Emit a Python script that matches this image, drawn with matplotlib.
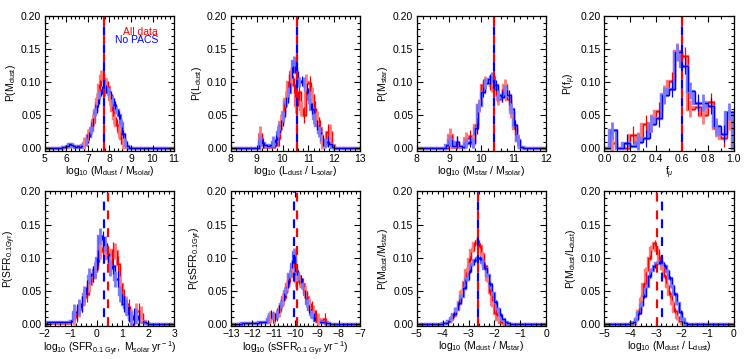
import numpy as np
import matplotlib
matplotlib.use('Agg')
import matplotlib.pyplot as plt
from matplotlib.ticker import MultipleLocator, AutoMinorLocator

plt.rcParams['font.family'] = ['Liberation Sans', 'DejaVu Sans']
plt.rcParams['mathtext.fontset'] = 'custom'
plt.rcParams['mathtext.rm'] = 'Liberation Sans'
plt.rcParams['mathtext.it'] = 'Liberation Sans:italic'

# --- panel data: histogram start edge, bin width, red ("All data") and blue ("No PACS") heights
mdust_start, mdust_bin = 5.8, 0.1
mdust_red = [0.001, 0.001, 0.002, 0.004, 0.006, 0.003, 0.003, 0.003, 0.004, 0.005,
             0.008, 0.012, 0.020, 0.030, 0.042, 0.058, 0.075, 0.095, 0.110, 0.105,
             0.098, 0.092, 0.075, 0.058, 0.045, 0.035, 0.025, 0.015, 0.008, 0.003, 0.001]
mdust_blue = [0.001, 0.002, 0.003, 0.006, 0.005, 0.003, 0.002, 0.003, 0.002, 0.004,
              0.006, 0.010, 0.018, 0.028, 0.040, 0.055, 0.068, 0.080, 0.088, 0.085,
              0.090, 0.086, 0.080, 0.074, 0.066, 0.058, 0.050, 0.038, 0.022, 0.010, 0.004]
mdust_med = (7.75, 7.75)

ldust_start, ldust_bin = 9.0, 0.1
ldust_red = [0.0, 0.022, 0.005, 0.001, 0.001, 0.001, 0.002, 0.005, 0.015, 0.040,
             0.055, 0.075, 0.100, 0.110, 0.095, 0.065, 0.085, 0.060, 0.050, 0.100,
             0.098, 0.080, 0.060, 0.045, 0.030, 0.010, 0.005, 0.025, 0.025, 0.005]
ldust_blue = [0.0, 0.013, 0.008, 0.005, 0.003, 0.005, 0.010, 0.012, 0.025, 0.035,
              0.048, 0.070, 0.085, 0.115, 0.132, 0.115, 0.100, 0.102, 0.100, 0.090,
              0.075, 0.060, 0.045, 0.035, 0.025, 0.012, 0.008, 0.010, 0.006, 0.002]
ldust_med = (10.55, 10.55)

mstar_start, mstar_bin = 8.9, 0.1
mstar_red = [0.0, 0.020, 0.002, 0.008, 0.002, 0.002, 0.015, 0.018, 0.010, 0.035,
             0.065, 0.095, 0.100, 0.098, 0.095, 0.090, 0.075, 0.080, 0.095, 0.075,
             0.055, 0.030, 0.012, 0.002]
mstar_blue = [0.005, 0.012, 0.004, 0.010, 0.004, 0.002, 0.008, 0.010, 0.008, 0.030,
              0.065, 0.085, 0.098, 0.105, 0.108, 0.095, 0.080, 0.078, 0.088, 0.080,
              0.060, 0.035, 0.012, 0.002]
mstar_med = (10.38, 10.38)

fmu_start, fmu_bin = 0.0, 0.05
fmu_red = [0.0, 0.008, 0.0, 0.0, 0.020, 0.012, 0.037, 0.038, 0.057, 0.082,
           0.102, 0.147, 0.140, 0.060, 0.062, 0.050, 0.070, 0.030, 0.015, 0.040]
fmu_blue = [0.0, 0.027, 0.0, 0.008, 0.003, 0.010, 0.015, 0.037, 0.045, 0.080,
            0.090, 0.145, 0.125, 0.087, 0.069, 0.069, 0.064, 0.033, 0.022, 0.055]
fmu_med = (0.60, 0.60)

sfr_start, sfr_bin = -1.9, 0.1
sfr_red = [0.002, 0.002, 0.002, 0.002, 0.002, 0.002, 0.002, 0.002, 0.002, 0.004,
           0.010, 0.015, 0.022, 0.030, 0.040, 0.045, 0.060, 0.075, 0.080, 0.095,
           0.110, 0.115, 0.115, 0.100, 0.090, 0.112, 0.110, 0.090, 0.060, 0.040,
           0.030, 0.025, 0.010, 0.008, 0.020, 0.020, 0.015, 0.005, 0.002]
sfr_blue = [0.003, 0.003, 0.003, 0.003, 0.003, 0.003, 0.003, 0.003, 0.003, 0.005,
            0.018, 0.018, 0.025, 0.030, 0.045, 0.055, 0.072, 0.075, 0.082, 0.100,
            0.132, 0.128, 0.120, 0.105, 0.085, 0.088, 0.068, 0.068, 0.045, 0.030,
            0.025, 0.015, 0.008, 0.012, 0.012, 0.008, 0.005, 0.003, 0.002]
sfr_med = (0.43, 0.30)

ssfr_start, ssfr_bin = -12.5, 0.1
ssfr_red = [0.001, 0.001, 0.001, 0.002, 0.002, 0.002, 0.002, 0.002, 0.003, 0.003,
            0.003, 0.003, 0.007, 0.010, 0.010, 0.009, 0.013, 0.020, 0.028, 0.038,
            0.048, 0.058, 0.072, 0.085, 0.095, 0.065, 0.070, 0.065, 0.060, 0.048,
            0.040, 0.030, 0.025, 0.020, 0.012, 0.008, 0.006, 0.004, 0.008, 0.003,
            0.002]
ssfr_blue = [0.001, 0.001, 0.001, 0.002, 0.002, 0.002, 0.002, 0.002, 0.003, 0.003,
             0.003, 0.003, 0.008, 0.015, 0.012, 0.010, 0.015, 0.022, 0.030, 0.040,
             0.050, 0.060, 0.075, 0.090, 0.108, 0.080, 0.072, 0.068, 0.058, 0.045,
             0.032, 0.022, 0.015, 0.010, 0.006, 0.004, 0.003, 0.003, 0.003, 0.002,
             0.001]
ssfr_med = (-9.93, -10.05)

dms_start, dms_bin = -4.0, 0.1
dms_red = [0.001, 0.002, 0.004, 0.008, 0.014, 0.022, 0.033, 0.048, 0.064, 0.082,
           0.098, 0.112, 0.122, 0.125, 0.118, 0.105, 0.088, 0.068, 0.048, 0.030,
           0.017, 0.008, 0.003, 0.001]
dms_blue = [0.001, 0.002, 0.005, 0.009, 0.015, 0.022, 0.031, 0.042, 0.055, 0.068,
            0.080, 0.090, 0.097, 0.100, 0.099, 0.094, 0.085, 0.074, 0.060, 0.046,
            0.033, 0.022, 0.013, 0.007, 0.003, 0.001]
dms_med = (-2.62, -2.62)

dml_start, dml_bin = -4.0, 0.1
dml_red = [0.0, 0.002, 0.008, 0.020, 0.038, 0.060, 0.082, 0.100, 0.115, 0.122,
           0.112, 0.098, 0.085, 0.072, 0.058, 0.045, 0.032, 0.020, 0.010, 0.004,
           0.001]
dml_blue = [0.001, 0.003, 0.008, 0.016, 0.028, 0.042, 0.058, 0.072, 0.082, 0.088,
            0.092, 0.093, 0.092, 0.088, 0.080, 0.070, 0.058, 0.045, 0.032, 0.018,
            0.008, 0.002]
dml_med = (-2.95, -2.78)

# typical error bar half-lengths (red, blue)
errs = [(0.009, 0.006), (0.012, 0.008), (0.010, 0.008), (0.013, 0.013),
        (0.012, 0.012), (0.009, 0.006), (0.004, 0.003), (0.004, 0.003)]


def draw_hist(ax, start, width, vals, err, xlim, dark, light):
    vals = np.asarray(vals)
    edges = start + width * np.arange(len(vals) + 1)
    centers = edges[:-1] + width / 2
    full = np.concatenate([[0.0], vals, [0.0]])
    shift = -0.25 * width
    m = vals >= 0.008
    # thick, light copy
    e_l = np.concatenate([[xlim[0]], edges + shift, [xlim[1]]])
    ax.stairs(full, e_l, baseline=None, color=light, lw=2.4)
    ax.vlines(centers[m][::2] + shift, vals[m][::2] - err, vals[m][::2] + err,
              color=light, lw=2.0)
    # thin, dark copy
    e_d = np.concatenate([[xlim[0]], edges, [xlim[1]]])
    ax.stairs(full, e_d, baseline=None, color=dark, lw=1.0)
    ax.vlines(centers[m][1::2], vals[m][1::2] - err, vals[m][1::2] + err,
              color=dark, lw=0.9)


def setup(ax, xlim, xmaj, xmin_div, xlabel, ylabel, ymin):
    ax.set_xlim(*xlim)
    ax.set_ylim(ymin, 0.20)
    ax.xaxis.set_major_locator(MultipleLocator(xmaj))
    ax.xaxis.set_minor_locator(AutoMinorLocator(xmin_div))
    ax.yaxis.set_major_locator(MultipleLocator(0.05))
    ax.yaxis.set_minor_locator(MultipleLocator(0.01))
    ax.yaxis.set_major_formatter(plt.FormatStrFormatter('%.2f'))
    ax.tick_params(which='both', direction='in', top=True, right=True,
                   labelsize=7.5, width=0.8, color='black')
    ax.tick_params(which='major', length=4, pad=2.5)
    ax.tick_params(which='minor', length=2)
    ax.set_xlabel(xlabel, fontsize=7.5, labelpad=0)
    ax.set_ylabel(ylabel, fontsize=7.5, labelpad=2)
    for s in ax.spines.values():
        s.set_linewidth(0.9)


panels = [
    (mdust_start, mdust_bin, mdust_red, mdust_blue, mdust_med, (5, 11), 1, 5,
     r'log$_{10}$ (M$_{\rm dust}$ / M$_{\rm solar}$)', r'P(M$_{\rm dust}$)'),
    (ldust_start, ldust_bin, ldust_red, ldust_blue, ldust_med, (8, 13), 1, 5,
     r'log$_{10}$ (L$_{\rm dust}$ / L$_{\rm solar}$)', r'P(L$_{\rm dust}$)'),
    (mstar_start, mstar_bin, mstar_red, mstar_blue, mstar_med, (8, 12), 1, 5,
     r'log$_{10}$ (M$_{\rm star}$ / M$_{\rm solar}$)', r'P(M$_{\rm star}$)'),
    (fmu_start, fmu_bin, fmu_red, fmu_blue, fmu_med, (0, 1), 0.2, 2,
     r'f$_{\mu}$', r'P(f$_{\mu}$)'),
    (sfr_start, sfr_bin, sfr_red, sfr_blue, sfr_med, (-2, 3), 1, 5,
     r'log$_{10}$ (SFR$_{\rm 0.1\ Gyr},$ M$_{\rm solar}$ yr$^{\rm -1}$)', r'P(SFR$_{\rm 0.1Gyr}$)'),
    (ssfr_start, ssfr_bin, ssfr_red, ssfr_blue, ssfr_med, (-13, -7), 1, 5,
     r'log$_{10}$ (sSFR$_{\rm 0.1\ Gyr}$ yr$^{\rm -1}$)', r'P(sSFR$_{\rm 0.1Gyr}$)'),
    (dms_start, dms_bin, dms_red, dms_blue, dms_med, (-5, 0), 1, 5,
     r'log$_{10}$ (M$_{\rm dust}$ / M$_{\rm star}$)', r'P(M$_{\rm dust}$/M$_{\rm star}$)'),
    (dml_start, dml_bin, dml_red, dml_blue, dml_med, (-5, 0), 1, 5,
     r'log$_{10}$ (M$_{\rm dust}$ / L$_{\rm dust}$)', r'P(M$_{\rm dust}$/L$_{\rm dust}$)'),
]

fig = plt.figure(figsize=(7.47, 3.59), dpi=100)
lefts = [0.060, 0.309, 0.558, 0.809]
bottoms = [0.580, 0.092]

for i, p in enumerate(panels):
    start, width, red, blue, med, xlim, xmaj, xdiv, xlabel, ylabel = p
    row, col = divmod(i, 4)
    ax = fig.add_axes([lefts[col], bottoms[row], 0.173, 0.375])
    draw_hist(ax, start, width, red, errs[i][0], xlim, 'red', '#ff7a7a')
    draw_hist(ax, start, width, blue, errs[i][1], xlim, 'blue', '#7a7aff')
    ax.axvline(med[0], color='red', lw=1.6, ls=(0, (4, 4)))
    ax.axvline(med[1], color='blue', lw=1.6, ls=(4, (4, 4)))
    setup(ax, xlim, xmaj, xdiv, xlabel, ylabel, -0.004 if row == 0 else -0.003)
    if i == 0:
        ax.text(0.875, 0.885, 'All data', color='red', fontsize=7.5,
                ha='right', va='center', transform=ax.transAxes)
        ax.text(0.875, 0.82, 'No PACS', color='blue', fontsize=7.5,
                ha='right', va='center', transform=ax.transAxes)

fig.savefig('out.png', dpi=100)
